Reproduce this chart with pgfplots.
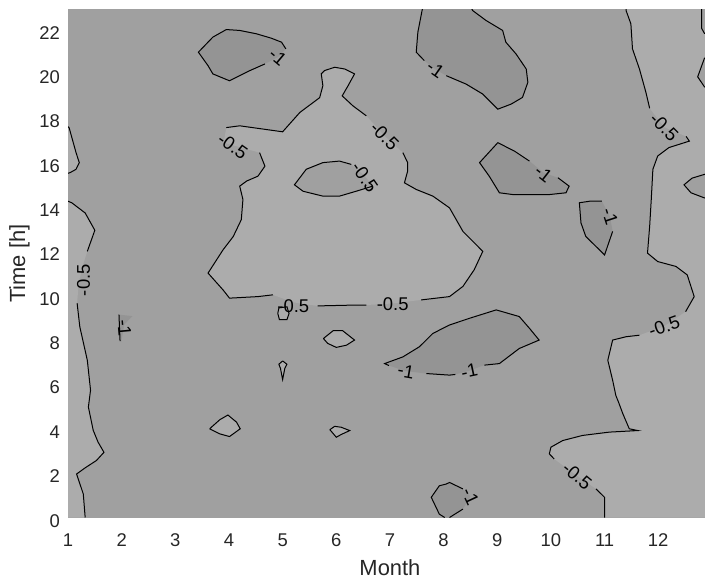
\documentclass[border=0pt]{standalone}
\usepackage{fontspec}
\setmainfont{Liberation Sans}
\usepackage{pgfplots}
\pgfplotsset{compat=1.18}
\definecolor{cmid}{RGB}{160,160,160}
\definecolor{clight}{RGB}{172,172,172}
\definecolor{cdark}{RGB}{148,148,148}
\definecolor{axc}{RGB}{38,38,38}
\tikzset{
  cl/.style={black, line width=1bp},
  lab/.style={font=\fontsize{18.5}{21}\selectfont, inner sep=0pt, text=black},
}
\begin{document}
\begin{tikzpicture}
\begin{axis}[
  scale only axis, width=643.9bp, height=507.9bp,
  xmin=1, xmax=13, ymin=0, ymax=22.9,
  xtick={1,...,12}, ytick={0,2,...,22},
  tick align=inside, major tick length=5bp,
  axis line style={axc, line width=0.8bp},
  every tick/.style={axc, line width=0.8bp},
  /pgf/number format/assume math mode=true,
  ticklabel style={font=\fontsize{18.5}{21}\selectfont, text=axc, inner sep=0pt},
  xticklabel style={anchor=base, yshift=-28.5bp},
  yticklabel style={anchor=base east, xshift=-8bp, yshift=-9.5bp},
  xlabel={Month}, ylabel={Time [h]},
  label style={font=\fontsize{22}{26}\selectfont, text=axc, inner sep=0pt},
  xlabel style={at={(axis description cs:0.5,-0.1142)}, anchor=base},
  ylabel style={at={(axis description cs:-0.06678,0.5)}, anchor=base},
]
% background (between -1 and -0.5)
\addplot[fill=cmid, draw=none] coordinates {(1,0)(13,0)(13,23)(1,23)};

% ---------- light regions (> -0.5)
\addplot[fill=clight, draw=none] coordinates {(1,0)(1.32,0)(1.285,1.06)(1.16,1.96)(1.32,2.24)(1.53,2.57)(1.67,2.94)(1.56,3.4)(1.47,3.93)(1.38,4.98)(1.42,5.74)(1.40,6.19)(1.36,7.09)(1.22,8.6)(1.17,9.66)(1.2,10.6)(1.28,11.4)(1.36,12.0)(1.50,12.95)(1.32,13.73)(1.07,14.19)(1,14.26)};
\addplot[fill=clight, draw=none] coordinates {(1,17.62)(1.02,17.58)(1.15,16.45)(1.21,16.0)(1.15,15.7)(1.04,15.55)(1,15.52)};
\addplot[fill=clight, draw=none] coordinates {(3.95,17.58)(4.20,17.66)(5.0,17.39)(5.32,18.26)(5.69,18.93)(5.75,19.47)(5.72,20.0)(5.78,20.15)(5.97,20.30)(6.16,20.22)(6.34,20.0)(6.22,19.47)(6.11,19.01)(6.31,18.56)(6.56,18.11)(6.9,17.2)(7.24,16.45)(7.33,16.0)(7.33,15.62)(7.27,15.09)(7.49,14.79)(7.80,14.49)(8.11,13.96)(8.36,12.9)(8.73,12.0)(8.57,11.17)(8.36,10.42)(8.11,9.96)(7.58,9.81)(7.05,9.65)(6.56,9.58)(6.2,9.57)(5.65,9.54)(5.2,9.7)(4.82,10.04)(4.54,9.96)(4.01,9.89)(3.89,10.26)(3.61,11.02)(3.89,12.07)(4.08,12.67)(4.23,13.43)(4.26,14.34)(4.20,14.94)(4.33,15.17)(4.54,15.39)(4.67,15.84)(4.57,16.45)(3.9,16.9)};
\addplot[fill=clight, draw=none] coordinates {(11.40,23)(11.40,22.86)(11.49,22.26)(11.52,21.13)(11.65,20.22)(11.77,19.17)(11.84,18.45)(12.11,17.6)(12.52,17.18)(12.58,16.97)(12.2,16.68)(11.99,16.3)(11.90,15.70)(11.87,14.34)(11.84,13.13)(11.80,11.92)(11.99,11.54)(12.33,11.32)(12.54,10.94)(12.67,9.96)(12.51,9.28)(12.11,8.62)(11.65,8.22)(11.40,8.15)(11.15,8.0)(11.06,7.09)(11.15,6.19)(11.21,5.5)(11.26,5.2)(11.34,4.68)(11.46,4.0)(11.62,3.92)(11.09,3.85)(10.59,3.70)(10.22,3.47)(10.0,3.17)(9.97,2.87)(10.06,2.64)(10.49,1.88)(10.84,1.29)(11.0,0.91)(11.0,0)(13,0)(13,23)};
\addplot[fill=clight, draw=none] coordinates {(4.93,9.45)(5.08,9.5)(5.12,9.2)(5.08,8.92)(4.94,8.92)(4.91,9.2)};
\addplot[fill=clight, draw=none] coordinates {(5.76,8.07)(5.94,8.42)(6.12,8.42)(6.34,8.0)(6.19,7.77)(6.0,7.67)(5.84,7.85)};
\addplot[fill=clight, draw=none] coordinates {(5.0,7.06)(5.08,6.91)(5.04,6.72)(5.0,6.22)(4.96,6.72)(4.93,6.91)};
\addplot[fill=clight, draw=none] coordinates {(3.64,4.0)(3.83,4.41)(3.98,4.62)(4.14,4.30)(4.21,4.0)(4.01,3.65)(3.83,3.77)};
\addplot[fill=clight, draw=none] coordinates {(5.88,3.96)(5.97,4.11)(6.09,4.07)(6.25,3.92)(6.09,3.74)(6.0,3.62)};

% ---------- mid regions inside light
\addplot[fill=cmid, draw=none] coordinates {(6.68,14.94)(6.37,14.71)(6.06,14.49)(5.75,14.49)(5.38,14.71)(5.22,15.0)(5.44,15.70)(5.75,16.0)(6.06,16.07)(6.28,15.92)(6.53,15.4)};
\addplot[fill=cmid, draw=none] coordinates {(12.81,23)(12.81,22.05)(12.86,21.83)(13,21.7)(13,23)};
\addplot[fill=cmid, draw=none] coordinates {(13,20.9)(12.86,20.7)(12.735,19.87)(12.86,19.42)(13,19.3)};
\addplot[fill=cmid, draw=none] coordinates {(13,15.55)(12.86,15.47)(12.63,15.3)(12.48,15.0)(12.61,14.64)(12.86,14.41)(13,14.35)};

% ---------- dark regions (< -1)
\addplot[fill=cdark, draw=none] coordinates {(4.67,20.45)(4.39,20.15)(4.01,19.69)(3.70,20.0)(3.61,20.37)(3.43,20.98)(3.70,21.66)(3.95,22.0)(4.20,21.96)(4.51,21.81)(4.79,21.61)(4.98,21.43)(5.06,21.13)(4.91,20.75)};
\addplot[fill=cdark, draw=none] coordinates {(7.61,23)(7.52,21.88)(7.49,20.98)(7.64,20.60)(7.85,20.2)(8.05,19.92)(8.42,19.54)(8.73,19.09)(9.01,18.41)(9.26,18.64)(9.47,18.94)(9.57,19.62)(9.54,20.22)(9.35,20.90)(9.16,21.43)(9.10,21.96)(8.79,22.41)(8.54,22.86)(8.51,23)};
\addplot[fill=cdark, draw=none] coordinates {(10.13,15.32)(10.34,14.94)(10.28,14.64)(9.97,14.56)(9.29,14.56)(9.04,14.64)(8.85,15.39)(8.67,16.0)(9.01,16.9)(9.32,16.52)(9.60,16.07)(9.86,15.55)};
\addplot[fill=cdark, draw=none] coordinates {(11.15,12.9)(11.0,11.84)(10.65,12.67)(10.56,13.28)(10.53,14.19)(10.72,14.26)(10.95,14.26)(11.1,13.57)};
\addplot[fill=cdark, draw=none] coordinates {(7.68,6.49)(8.11,6.42)(8.22,6.45)(8.48,6.62)(8.76,6.87)(9.04,6.94)(9.41,7.62)(9.78,8.0)(9.60,8.53)(9.41,9.06)(8.98,9.36)(8.48,8.98)(8.11,8.68)(7.80,8.30)(7.55,7.70)(7.24,7.24)(6.90,6.94)(6.98,6.85)(7.3,6.6)};
\addplot[fill=cdark, draw=none] coordinates {(8.02,0)(7.92,0.15)(7.77,0.91)(7.92,1.43)(8.05,1.51)(8.11,1.58)(8.36,1.29)(8.5,0.95)(8.36,0.38)(8.11,0)};
\addplot[fill=cdark, draw=none] coordinates {(1.94,9.15)(2.2,9.08)(2.05,8.7)(1.99,7.9)(1.95,8.4)};

% ---------- contour lines
\addplot[cl] coordinates {(1.32,0)(1.285,1.06)(1.16,1.96)(1.32,2.24)(1.53,2.57)(1.67,2.94)(1.56,3.4)(1.47,3.93)(1.38,4.98)(1.42,5.74)(1.40,6.19)(1.36,7.09)(1.22,8.6)(1.17,9.66)};
\addplot[cl] coordinates {(1.36,12.0)(1.50,12.95)(1.32,13.73)(1.07,14.19)(1,14.26)};
\addplot[cl] coordinates {(1,17.62)(1.02,17.58)(1.15,16.45)(1.21,16.0)(1.15,15.7)(1.04,15.55)(1,15.52)};
\addplot[cl] coordinates {(4.67,20.45)(4.39,20.15)(4.01,19.69)(3.70,20.0)(3.61,20.37)(3.43,20.98)(3.70,21.66)(3.95,22.0)(4.20,21.96)(4.51,21.81)(4.79,21.61)(4.98,21.43)(5.06,21.13)};
\addplot[cl] coordinates {(3.95,17.58)(4.20,17.66)(5.0,17.39)(5.32,18.26)(5.69,18.93)(5.75,19.47)(5.72,20.0)(5.78,20.15)(5.97,20.30)(6.16,20.22)(6.34,20.0)(6.22,19.47)(6.11,19.01)(6.31,18.56)(6.56,18.11)};
\addplot[cl] coordinates {(7.24,16.45)(7.33,16.0)(7.33,15.62)(7.27,15.09)(7.49,14.79)(7.80,14.49)(8.11,13.96)(8.36,12.9)(8.73,12.0)(8.57,11.17)(8.36,10.42)(8.11,9.96)(7.58,9.81)};
\addplot[cl] coordinates {(6.56,9.58)(6.2,9.57)(5.65,9.54)};
\addplot[cl] coordinates {(4.82,10.04)(4.54,9.96)(4.01,9.89)(3.89,10.26)(3.61,11.02)(3.89,12.07)(4.08,12.67)(4.23,13.43)(4.26,14.34)(4.20,14.94)(4.33,15.17)(4.54,15.39)(4.67,15.84)(4.57,16.45)};
\addplot[cl] coordinates {(6.68,14.94)(6.37,14.71)(6.06,14.49)(5.75,14.49)(5.38,14.71)(5.22,15.0)(5.44,15.70)(5.75,16.0)(6.06,16.07)(6.28,15.92)};
\addplot[cl] coordinates {(4.93,9.45)(5.08,9.5)(5.12,9.2)(5.08,8.92)(4.94,8.92)(4.91,9.2)(4.93,9.45)};
\addplot[cl] coordinates {(5.76,8.07)(5.94,8.42)(6.12,8.42)(6.34,8.0)(6.19,7.77)(6.0,7.67)(5.84,7.85)(5.76,8.07)};
\addplot[cl] coordinates {(5.0,7.06)(5.08,6.91)(5.04,6.72)(5.0,6.22)(4.96,6.72)(4.93,6.91)(5.0,7.06)};
\addplot[cl] coordinates {(3.64,4.0)(3.83,4.41)(3.98,4.62)(4.14,4.30)(4.21,4.0)(4.01,3.65)(3.83,3.77)(3.64,4.0)};
\addplot[cl] coordinates {(5.88,3.96)(5.97,4.11)(6.09,4.07)(6.25,3.92)(6.09,3.74)(6.0,3.62)(5.88,3.96)};
\addplot[cl] coordinates {(1.95,9.15)(1.97,7.95)};
\addplot[cl] coordinates {(8.02,0)(7.92,0.15)(7.77,0.91)(7.92,1.43)(8.05,1.51)(8.11,1.58)(8.36,1.29)};
\addplot[cl] coordinates {(8.36,0.38)(8.11,0)};
\addplot[cl] coordinates {(7.68,6.49)(8.11,6.42)(8.22,6.45)};
\addplot[cl] coordinates {(8.76,6.87)(9.04,6.94)(9.41,7.62)(9.78,8.0)(9.60,8.53)(9.41,9.06)(8.98,9.36)(8.48,8.98)(8.11,8.68)(7.80,8.30)(7.55,7.70)(7.24,7.24)(6.90,6.94)(6.98,6.85)};
\addplot[cl] coordinates {(7.61,23)(7.52,21.88)(7.49,20.98)(7.64,20.60)};
\addplot[cl] coordinates {(8.05,19.92)(8.42,19.54)(8.73,19.09)(9.01,18.41)(9.26,18.64)(9.47,18.94)(9.57,19.62)(9.54,20.22)(9.35,20.90)(9.16,21.43)(9.10,21.96)(8.79,22.41)(8.54,22.86)(8.51,23)};
\addplot[cl] coordinates {(10.13,15.32)(10.34,14.94)(10.28,14.64)(9.97,14.56)(9.29,14.56)(9.04,14.64)(8.85,15.39)(8.67,16.0)(9.01,16.9)(9.32,16.52)(9.60,16.07)};
\addplot[cl] coordinates {(11.15,12.9)(11.0,11.84)(10.65,12.67)(10.56,13.28)(10.53,14.19)(10.72,14.26)(10.95,14.26)};
\addplot[cl] coordinates {(11.40,23)(11.40,22.86)(11.49,22.26)(11.52,21.13)(11.65,20.22)(11.77,19.17)(11.84,18.45)};
\addplot[cl] coordinates {(12.52,17.18)(12.58,16.97)(12.2,16.68)(11.99,16.3)(11.90,15.70)(11.87,14.34)(11.84,13.13)(11.80,11.92)(11.99,11.54)(12.33,11.32)(12.54,10.94)(12.67,9.96)(12.51,9.28)};
\addplot[cl] coordinates {(11.65,8.22)(11.40,8.15)(11.15,8.0)(11.06,7.09)(11.15,6.19)(11.21,5.5)(11.26,5.2)(11.34,4.68)(11.46,4.0)(11.62,3.92)(11.09,3.85)(10.59,3.70)(10.22,3.47)(10.0,3.17)(9.97,2.87)(10.06,2.64)};
\addplot[cl] coordinates {(10.84,1.29)(11.0,0.91)(11.0,0)};
\addplot[cl] coordinates {(12.81,23)(12.81,22.05)(12.86,21.83)(13,21.7)};
\addplot[cl] coordinates {(13,20.9)(12.86,20.7)(12.735,19.87)(12.86,19.42)(13,19.3)};
\addplot[cl] coordinates {(13,15.55)(12.86,15.47)(12.63,15.3)(12.48,15.0)(12.61,14.64)(12.86,14.41)(13,14.35)};

% ---------- contour labels
\node[lab, rotate=90] at (axis cs:1.29,10.7) {-0.5};
\node[lab, rotate=-40] at (axis cs:4.91,20.75) {-1};
\node[lab, rotate=-45] at (axis cs:6.90,17.2) {-0.5};
\node[lab] at (axis cs:7.05,9.6) {-0.5};
\node[lab] at (axis cs:5.2,9.55) {-0.5};
\node[lab, rotate=-35] at (axis cs:4.07,16.75) {-0.5};
\node[lab, rotate=-55] at (axis cs:6.53,15.35) {-0.5};
\node[lab, rotate=-85] at (axis cs:2.05,8.55) {-1};
\node[lab, rotate=-65] at (axis cs:8.5,0.95) {-1};
\node[lab, rotate=-10] at (axis cs:7.3,6.6) {-1};
\node[lab, rotate=12] at (axis cs:8.48,6.6) {-1};
\node[lab, rotate=-35] at (axis cs:7.85,20.22) {-1};
\node[lab, rotate=-38] at (axis cs:9.86,15.52) {-1};
\node[lab, rotate=-72] at (axis cs:11.1,13.57) {-1};
\node[lab, rotate=-45] at (axis cs:12.11,17.6) {-0.5};
\node[lab, rotate=20] at (axis cs:12.11,8.62) {-0.5};
\node[lab, rotate=-40] at (axis cs:10.49,1.88) {-0.5};
\end{axis}
\pgfresetboundingbox
\useasboundingbox (-68bp,-61.5bp) rectangle (637bp,517.5bp);
\end{tikzpicture}
\end{document}
